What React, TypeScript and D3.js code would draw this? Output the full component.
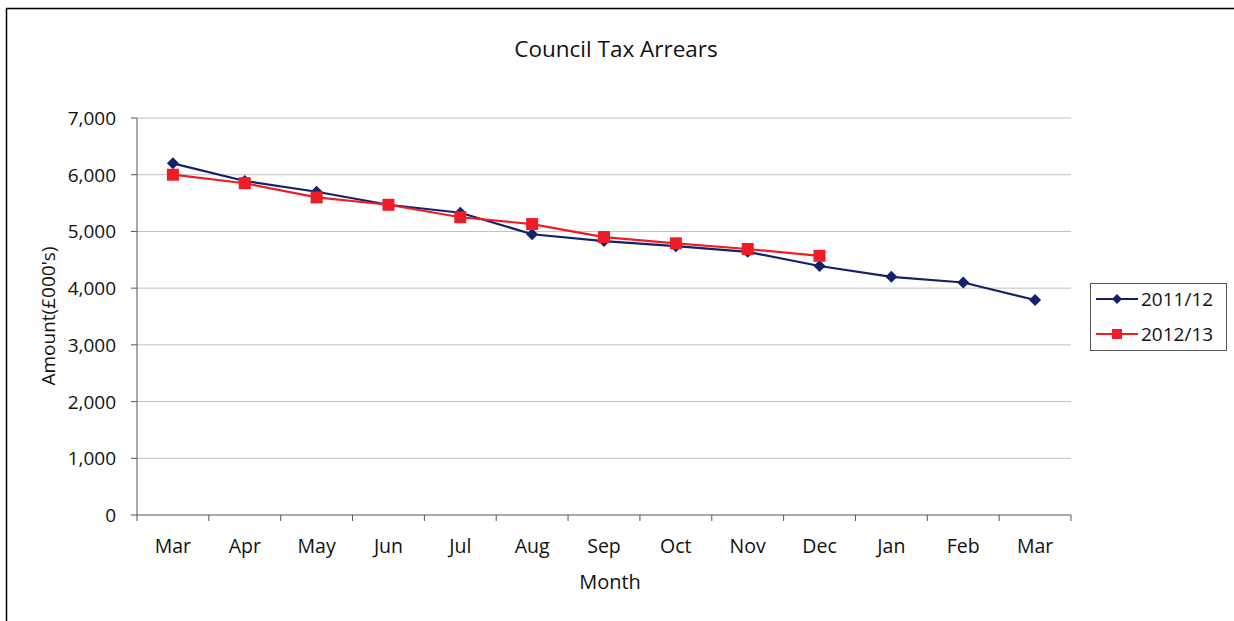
import React from "react";
import * as d3 from "d3";

const months = ["Mar", "Apr", "May", "Jun", "Jul", "Aug", "Sep", "Oct", "Nov", "Dec", "Jan", "Feb", "Mar"];
const series2011 = [6200, 5890, 5700, 5470, 5330, 4950, 4830, 4740, 4640, 4390, 4200, 4100, 3790];
const series2012 = [6000, 5850, 5600, 5470, 5250, 5130, 4900, 4790, 4690, 4570];
const yTicks = [0, 1000, 2000, 3000, 4000, 5000, 6000, 7000];

const W = 1234, H = 621;
const left = 137, right = 1071, top = 118, bottom = 515;
const font = "'Open Sans', 'Segoe UI', sans-serif";

export default function App() {
  const idx = months.map((_, i) => i);
  const x = d3.scaleBand<number>().domain(idx).range([left, right]);
  const y = d3.scaleLinear().domain([0, 7000]).range([bottom, top]);
  const cx = (i: number) => (x(i) as number) + x.bandwidth() / 2;
  const line = d3.line<number>().x((_, i) => cx(i)).y((d) => y(d));
  const fmt = d3.format(",");
  const blue = "#13206b";
  const red = "#ee1c25";
  const diamond = (px: number, py: number, r = 6) =>
    `M${px},${py - r}L${px + r},${py}L${px},${py + r}L${px - r},${py}Z`;

  return (
    <svg width={W} height={H} style={{ display: "block", position: "absolute", left: 0, top: 0 }} fontFamily={font}>
      <rect x={0} y={0} width={W} height={H} fill="#fff" />
      <line x1={6.5} y1={8} x2={6.5} y2={H} stroke="#000" strokeWidth={1.5} />
      <line x1={6} y1={8.5} x2={W} y2={8.5} stroke="#000" strokeWidth={1.5} />
      <text x={616} y={57} textAnchor="middle" fontSize={22.5} fill="#111">Council Tax Arrears</text>
      {yTicks.map((t) => (
        <g key={t}>
          {t > 0 && <line x1={left} x2={right} y1={y(t)} y2={y(t)} stroke="#c0c0c0" strokeWidth={1} />}
          <line x1={left - 6} x2={left} y1={y(t)} y2={y(t)} stroke="#555" />
          <text x={left - 21} y={y(t) + 7} textAnchor="end" fontSize={19} fill="#111">{fmt(t)}</text>
        </g>
      ))}
      <line x1={left} x2={left} y1={top} y2={bottom} stroke="#555" />
      <line x1={left} x2={right} y1={bottom} y2={bottom} stroke="#555" />
      {d3.range(months.length + 1).map((i) => {
        const px = left + i * x.bandwidth();
        return <line key={i} x1={px} x2={px} y1={bottom} y2={bottom + 6} stroke="#555" />;
      })}
      {months.map((m, i) => (
        <text key={i} x={cx(i)} y={553} textAnchor="middle" fontSize={19.5} fill="#111">{m}</text>
      ))}
      <text x={610} y={589} textAnchor="middle" fontSize={20} fill="#111">Month</text>
      <text transform={`translate(55,316) rotate(-90)`} textAnchor="middle" fontSize={19} fill="#111">Amount(£000's)</text>

      <path d={line(series2011) || ""} fill="none" stroke={blue} strokeWidth={2.2} />
      {series2011.map((v, i) => (
        <path key={i} d={diamond(cx(i), y(v))} fill={blue} />
      ))}
      <path d={line(series2012) || ""} fill="none" stroke={red} strokeWidth={2.2} />
      {series2012.map((v, i) => (
        <rect key={i} x={cx(i) - 6} y={y(v) - 6} width={12} height={12} fill={red} />
      ))}

      <rect x={1090.5} y={283.5} width={136} height={67} fill="#fff" stroke="#555" />
      <line x1={1096} x2={1138} y1={299} y2={299} stroke={blue} strokeWidth={2.2} />
      <path d={diamond(1117, 299, 5)} fill={blue} />
      <text x={1141} y={306} fontSize={19} fill="#111">2011/12</text>
      <line x1={1096} x2={1138} y1={334} y2={334} stroke={red} strokeWidth={2.2} />
      <rect x={1112} y={329} width={10} height={10} fill={red} />
      <text x={1141} y={341} fontSize={19} fill="#111">2012/13</text>
    </svg>
  );
}
